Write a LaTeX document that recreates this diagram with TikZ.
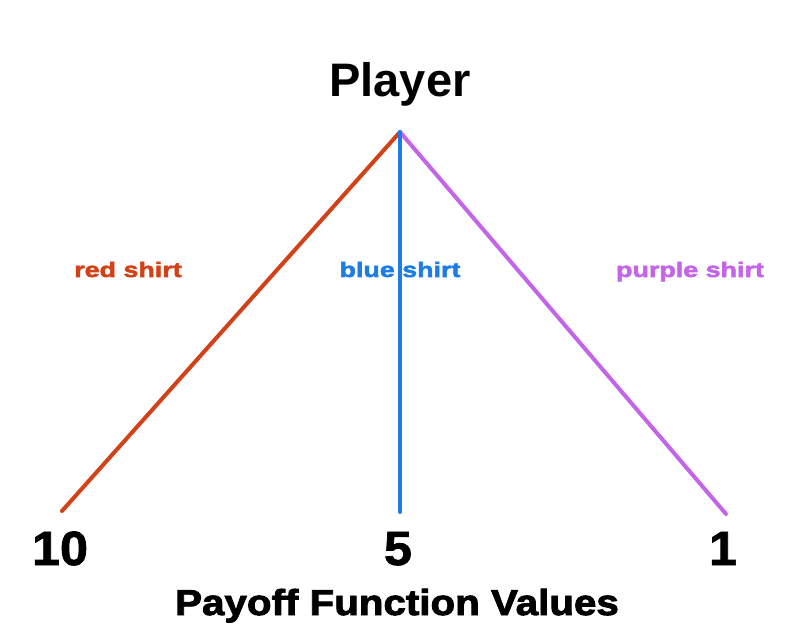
\documentclass[tikz,border=0pt]{standalone}
\usepackage{fontspec}
\setmainfont{Liberation Sans}
\newfontfamily\arialbold{Liberation Sans}
\newfontfamily\arialdigits{Liberation Sans}[BoldFeatures={FakeStretch=1.05,FakeBold=1.5}]
\newfontfamily\arialblack{Liberation Sans}[BoldFeatures={FakeStretch=1.28,FakeBold=2.5}]
\newfontfamily\arialblackB{Liberation Sans}[BoldFeatures={FakeStretch=1.12,FakeBold=2.5}]
\definecolor{cred}{RGB}{210,66,24}
\definecolor{cblue}{RGB}{30,124,230}
\definecolor{cpurple}{RGB}{196,100,232}
\begin{document}
\begin{tikzpicture}[x=1pt,y=1pt,
  branch/.style={line width=4pt,line cap=round},
  title/.style={anchor=base,inner sep=0pt,font=\fontsize{47}{50}\selectfont\arialbold\bfseries},
  lab/.style={anchor=base,inner sep=0pt,font=\fontsize{21}{24}\selectfont\arialblack\bfseries},
  val/.style={anchor=base,inner sep=0pt,font=\fontsize{48}{52}\selectfont\arialdigits\bfseries},
  axis/.style={anchor=base,inner sep=0pt,font=\fontsize{36}{40}\selectfont\arialblackB\bfseries}]
\useasboundingbox[fill=white] (0,0) rectangle (800,640);
\node[title] (player) at (400,543) {Player};
\coordinate (apex) at (400,508);
\coordinate (rend) at (62,129);
\coordinate (bend) at (400,128);
\coordinate (pend) at (726,126);
\node[lab,text=cred] (rlab) at (128,363) {red shirt};
\node[lab,text=cblue] (blab) at (400,363) {blue shirt};
\node[lab,text=cpurple] (plab) at (690,363) {purple shirt};
\draw[branch,cred] (apex) -- (rend);
\draw[branch,cpurple] (apex) -- (pend);
\draw[branch,cblue] (apex) -- (bend);
\node[val] (v10) at (60,75) {10};
\node[val] (v5) at (398,75) {5};
\node[val] (v1) at (723,75) {1};
\node[axis] (axislab) at (397,25) {Payoff Function Values};
\end{tikzpicture}
\end{document}
